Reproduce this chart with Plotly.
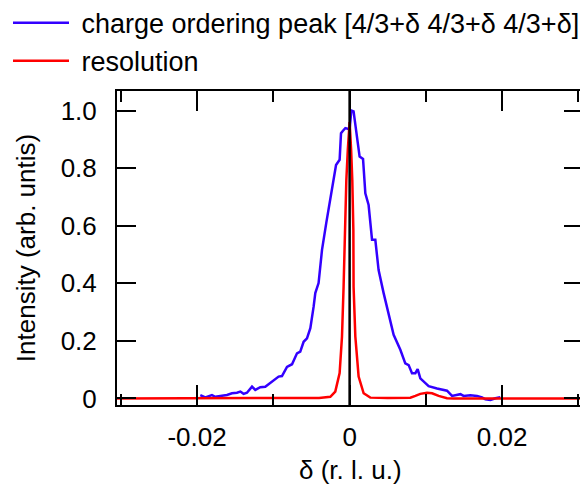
import plotly.graph_objects as go

# charge ordering peak (blue)
co_x = [-0.01958, -0.01892, -0.01805, -0.01761, -0.01696, -0.01608, -0.01542, -0.01477,
        -0.01433, -0.01390, -0.01346, -0.01280, -0.01237, -0.01171, -0.01106, -0.01040,
        -0.00997, -0.00931, -0.00887, -0.00821, -0.00755, -0.00690, -0.00647, -0.00603,
        -0.00559, -0.00515, -0.00472, -0.00450, -0.00407, -0.00362, -0.00306, -0.00253,
        -0.00210, -0.00178, -0.00131, -0.00113, -0.00087, -0.00056, 0.00000, 0.00022,
        0.00052, 0.00088, 0.00131, 0.00176, 0.00206, 0.00249, 0.00294, 0.00337,
        0.00380, 0.00446, 0.00511, 0.00577, 0.00665, 0.00730, 0.00774, 0.00818,
        0.00862, 0.00892, 0.00927, 0.00993, 0.01036, 0.01146, 0.01277, 0.01343,
        0.01409, 0.01452, 0.01495, 0.01583, 0.01671, 0.01736, 0.01780, 0.01846,
        0.01911, 0.01976]
co_y = [0.012, 0.004, 0.012, 0.006, 0.009, 0.012, 0.018, 0.020,
        0.024, 0.016, 0.020, 0.041, 0.030, 0.039, 0.041, 0.053,
        0.061, 0.076, 0.078, 0.110, 0.119, 0.157, 0.163, 0.197,
        0.209, 0.244, 0.319, 0.366, 0.401, 0.516, 0.610, 0.690,
        0.759, 0.811, 0.829, 0.921, 0.930, 0.939, 0.935, 1.000,
        0.997, 0.933, 0.840, 0.832, 0.713, 0.672, 0.551, 0.551,
        0.446, 0.366, 0.296, 0.221, 0.169, 0.122, 0.116, 0.088,
        0.088, 0.102, 0.070, 0.053, 0.043, 0.035, 0.027, 0.009,
        0.012, 0.015, 0.009, 0.011, 0.009, 0.004, -0.003, -0.005,
        0.001, 0.004]

# resolution (red)
res_x = [-0.0305, -0.0250, -0.0200, -0.0150, -0.0100, -0.0060, -0.00400, -0.00253,
         -0.00188, -0.00131, -0.00100, -0.00079, -0.00063, -0.00043, -0.00024, 0.00000,
         0.00020, 0.00035, 0.00049, 0.00052, 0.00075, 0.00118, 0.00184, 0.00271,
         0.0050, 0.00796, 0.00862, 0.00927, 0.01015, 0.01081, 0.01167, 0.01277,
         0.01364, 0.0180, 0.0240, 0.0306]
res_y = [0.000, 0.000, 0.000, 0.000, 0.000, 0.001, 0.002, 0.006,
         0.024, 0.088, 0.215, 0.388, 0.585, 0.759, 0.863, 0.960,
         0.863, 0.759, 0.585, 0.388, 0.215, 0.076, 0.018, 0.003,
         0.002, 0.003, 0.009, 0.016, 0.020, 0.018, 0.009, 0.001,
         0.000, 0.000, 0.000, 0.000]

x_ticks = [-0.02, 0, 0.02]
x_ticklabels = ["-0.02", "0", "0.02"]
y_ticks = [0, 0.2, 0.4, 0.6, 0.8, 1.0]
y_ticklabels = ["0", "0.2", "0.4", "0.6", "0.8", "1.0"]
x_title = "δ (r. l. u.)"
y_title = "Intensity (arb. untis)"
series_names = ["charge ordering peak [4/3+δ 4/3+δ 4/3+δ]", "resolution"]

FONT = "Liberation Sans, Arial, sans-serif"
FS = 26
PAD = "\u00a0"  # small gap between legend line and label

fig = go.Figure()
fig.add_trace(go.Scatter(x=co_x, y=co_y, mode="lines",
                         name=PAD + series_names[0],
                         line=dict(color="#3300ff", width=2.5)))
fig.add_trace(go.Scatter(x=res_x, y=res_y, mode="lines",
                         name=PAD + series_names[1],
                         line=dict(color="#ff0000", width=2.5)))

fig.add_shape(type="line", xref="x", yref="paper", x0=0, x1=0, y0=0, y1=1,
              line=dict(color="black", width=2.5), layer="above")

fig.add_annotation(text=x_title, xref="paper", yref="paper", x=0.5, y=-0.206,
                   xanchor="center", yanchor="middle", showarrow=False,
                   font=dict(size=FS))
fig.add_annotation(text=y_title, xref="paper", yref="paper", x=-0.195, y=0.5,
                   xanchor="center", yanchor="middle", showarrow=False,
                   textangle=-90, font=dict(size=FS))

fig.update_layout(
    width=580, height=490,
    margin=dict(l=109, r=5, t=83, b=93, autoexpand=False),
    paper_bgcolor="white", plot_bgcolor="white",
    font=dict(family=FONT, size=FS, color="black"),
    showlegend=True,
    legend=dict(x=-0.2339, y=1.294, xanchor="left", yanchor="top",
                bgcolor="rgba(0,0,0,0)", font=dict(size=27), itemwidth=56),
    xaxis=dict(range=[-0.0305, 0.0306], tickmode="array", tickvals=x_ticks,
               ticktext=x_ticklabels, ticks="inside", ticklen=20, tickwidth=2,
               tickcolor="black", showline=True, linecolor="black", linewidth=2,
               mirror="ticks", showgrid=False, zeroline=False,
               minor=dict(dtick=0.01, tick0=0, ticks="inside", ticklen=11,
                          tickwidth=2, tickcolor="black", showgrid=False),
               ticklabelstandoff=8, tickfont=dict(size=FS)),
    yaxis=dict(range=[-0.0226, 1.068], tickmode="array", tickvals=y_ticks,
               ticktext=[t + "\u2002" for t in y_ticklabels], ticks="inside",
               ticklen=19, tickwidth=2,
               tickcolor="black", showline=True, linecolor="black", linewidth=2,
               mirror="ticks", showgrid=False, zeroline=False,
               tickfont=dict(size=FS)),
)

fig.write_html("out.html")
